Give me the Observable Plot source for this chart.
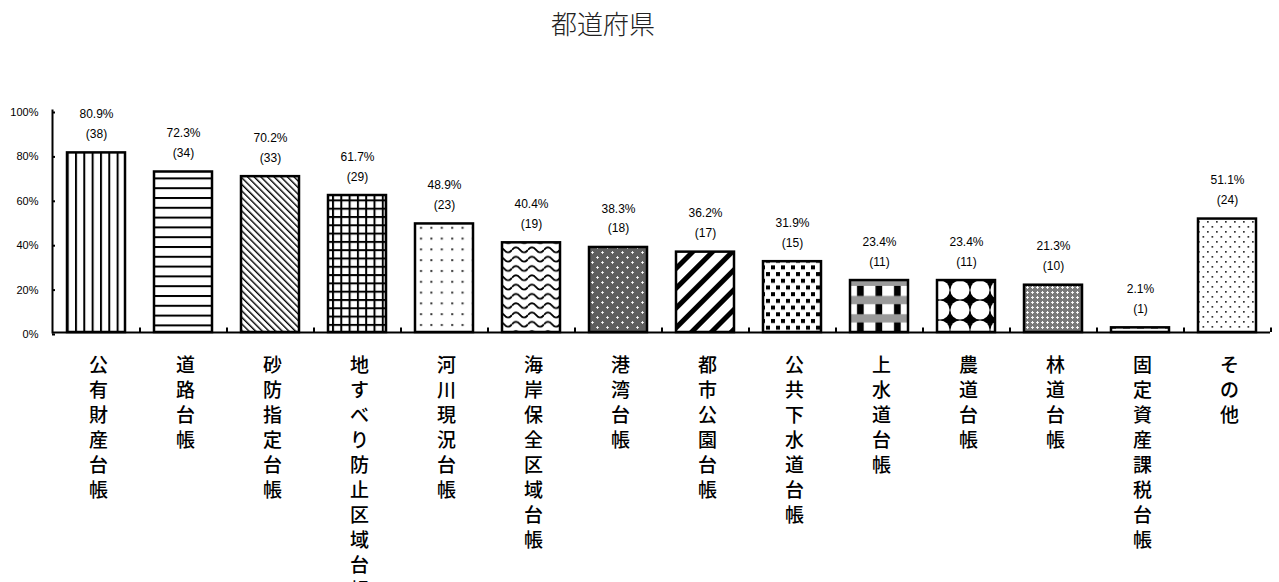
<!DOCTYPE html>
<html>
<head>
<meta charset="utf-8">
<script src="https://cdn.jsdelivr.net/npm/d3@7"></script>
<script src="https://cdn.jsdelivr.net/npm/@observablehq/plot@0.6"></script>
<style>
  html, body { margin: 0; padding: 0; background: #fff; }
  #wrap { position: relative; width: 1279px; height: 582px; overflow: hidden; }
  #title { position: absolute; left: 603px; top: 22px; transform: translate(-50%, -50%);
           font-family: "Noto Sans CJK JP", sans-serif; font-size: 26px; font-weight: 300; color: #222; white-space: nowrap; }
  #chart { position: absolute; left: 0; top: 50px; }
</style>
</head>
<body>
<div id="wrap">
  <div id="title">都道府県</div>
  <div id="chart"></div>
</div>
<script>
const categories = ["公有財産台帳", "道路台帳", "砂防指定台帳", "地すべり防止区域台帳", "河川現況台帳", "海岸保全区域台帳", "港湾台帳", "都市公園台帳", "公共下水道台帳", "上水道台帳", "農道台帳", "林道台帳", "固定資産課税台帳", "その他"];
const percents = [80.9, 72.3, 70.2, 61.7, 48.9, 40.4, 38.3, 36.2, 31.9, 23.4, 23.4, 21.3, 2.1, 51.1];
const counts = [38, 34, 33, 29, 23, 19, 18, 17, 15, 11, 11, 10, 1, 24];
const yTicks = [0, 20, 40, 60, 80, 100];

const data = categories.map((c, i) => ({c, v: percents[i], n: counts[i], pat: `url(#pat${i})`}));

const W = 1279, H = 532, mL = 52, mR = 9, mT = 60, mB = 250;
const step = (W - mL - mR) / categories.length;
const numFont = "'Liberation Sans Narrow', 'Liberation Sans', sans-serif";

const plot = Plot.plot({
  width: W, height: H,
  marginLeft: mL, marginRight: mR, marginTop: mT, marginBottom: mB,
  style: {fontFamily: "'Noto Sans CJK JP', sans-serif", background: "#fff", color: "#000", overflow: "visible"},
  x: {domain: categories, paddingInner: 1/3, paddingOuter: 1/6, axis: null},
  y: {domain: [0, 100], axis: null},
  color: {type: "identity"},
  marks: [
    Plot.barY(data, {x: "c", y: "v", fill: "pat", stroke: "#000", strokeWidth: 2.5}),
    Plot.ruleY([0], {stroke: "#000", strokeWidth: 2}),
    Plot.frame({anchor: "left", stroke: "#000", strokeWidth: 2}),
    Plot.ruleX(data, {x: "c", y1: 0, y2: 2, dx: step / 2, stroke: "#000", strokeWidth: 2}),
    Plot.axisY({ticks: yTicks, tickFormat: d => d + "%", label: null, tickSize: -3, tickPadding: 17, fontSize: 11, strokeWidth: 2, dy: 2, fontFamily: numFont}),
    Plot.text(data, {x: "c", y: "v", text: d => `${d.v.toFixed(1)}%\n(${d.n})`, lineAnchor: "bottom", dy: -15, lineHeight: 1.65, fontSize: 12, fill: "#000", fontFamily: numFont}),
    Plot.text(data, {x: "c", text: d => [...d.c].join("\n"), frameAnchor: "bottom", lineAnchor: "top", dy: 22, dx: 2, fontSize: 19, fontWeight: 500, lineHeight: 25 / 19, fill: "#000"})
  ]
});

const defs = `
<defs>
<pattern id="pat0" patternUnits="userSpaceOnUse" width="8.33" height="10"><rect width="8.33" height="10" fill="#fff"/><rect x="0" width="2" height="10" fill="#000"/></pattern>
<pattern id="pat1" patternUnits="userSpaceOnUse" width="10" height="9.8"><rect width="10" height="9.8" fill="#fff"/><rect y="0" width="10" height="2" fill="#000"/></pattern>
<pattern id="pat2" patternUnits="userSpaceOnUse" width="4.7" height="10" patternTransform="rotate(-45)"><rect width="4.7" height="10" fill="#fff"/><rect width="1.4" height="10" fill="#000"/></pattern>
<pattern id="pat3" patternUnits="userSpaceOnUse" width="8.3" height="8.3"><rect width="8.3" height="8.3" fill="#fff"/><rect width="2" height="8.3" fill="#000"/><rect width="8.3" height="2" fill="#000"/></pattern>
<pattern id="pat4" patternUnits="userSpaceOnUse" width="10.4" height="10.8"><rect width="10.4" height="10.8" fill="#fff"/><rect x="4" y="4" width="2" height="2" fill="#333"/></pattern>
<pattern id="pat5" patternUnits="userSpaceOnUse" width="16" height="9.3"><rect width="16" height="9.3" fill="#fff"/><path d="M0,4.6 Q4,-0.4 8,4.6 T16,4.6" fill="none" stroke="#000" stroke-width="1.8"/></pattern>
<pattern id="pat6" patternUnits="userSpaceOnUse" width="10" height="10"><rect width="10" height="10" fill="#5e5e5e"/><path d="M1.2,2.5h2.6M2.5,1.2v2.6M6.2,7.5h2.6M7.5,6.2v2.6" stroke="#fff" stroke-width="1"/></pattern>
<pattern id="pat7" patternUnits="userSpaceOnUse" width="14" height="14" patternTransform="rotate(45)"><rect width="14" height="14" fill="#fff"/><rect width="5" height="14" fill="#000"/></pattern>
<pattern id="pat8" patternUnits="userSpaceOnUse" width="10" height="13.4"><rect width="10" height="13.4" fill="#fff"/><rect x="1" y="1" width="4" height="4" fill="#000"/><rect x="6" y="7.7" width="4" height="4" fill="#000"/></pattern>
<pattern id="pat9" patternUnits="userSpaceOnUse" width="18.5" height="18.3"><rect width="18.5" height="18.3" fill="#fff"/><rect x="6" width="6.7" height="18.3" fill="#000"/><rect y="8" width="18.5" height="8.3" fill="#9a9a9a"/></pattern>
<pattern id="pat10" patternUnits="userSpaceOnUse" width="20" height="20"><rect width="20" height="20" fill="#000"/><circle cx="0" cy="0" r="9.6" fill="#fff"/><circle cx="20" cy="0" r="9.6" fill="#fff"/><circle cx="0" cy="20" r="9.6" fill="#fff"/><circle cx="20" cy="20" r="9.6" fill="#fff"/></pattern>
<pattern id="pat11" patternUnits="userSpaceOnUse" width="5" height="5"><rect width="5" height="5" fill="#7a7a7a"/><path d="M1,2.5h3M2.5,1v3" stroke="#fff" stroke-width="0.9"/></pattern>
<pattern id="pat12" patternUnits="userSpaceOnUse" width="14" height="5"><rect width="14" height="5" fill="#fff"/><rect x="3" y="1.5" width="7" height="2" fill="#000"/></pattern>
<pattern id="pat13" patternUnits="userSpaceOnUse" width="9" height="10"><rect width="9" height="10" fill="#fff"/><rect x="1" y="1" width="1.7" height="1.7" fill="#333"/><rect x="5.5" y="6" width="1.7" height="1.7" fill="#333"/></pattern>
</defs>`;
plot.insertAdjacentHTML("afterbegin", defs);
document.getElementById("chart").appendChild(plot);
</script>
</body>
</html>
